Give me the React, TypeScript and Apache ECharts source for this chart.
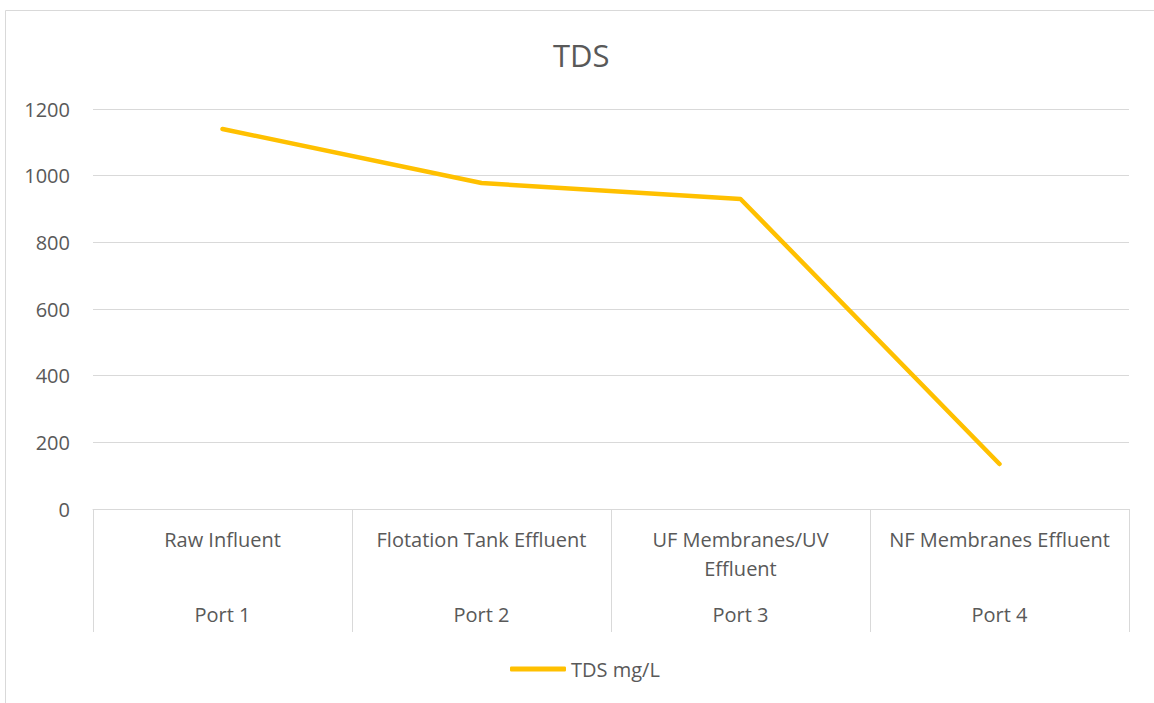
import React, { useEffect, useRef } from "react";
import * as echarts from "echarts";

const categories = ["Raw Influent", "Flotation Tank Effluent", "UF Membranes/UV\nEffluent", "NF Membranes Effluent"];
const ports = ["Port 1", "Port 2", "Port 3", "Port 4"];
const tdsValues = [1140, 978, 930, 135];
const seriesName = "TDS mg/L";
const titleText = "TDS";

const FONT = "'Open Sans', Lato, sans-serif";
const TEXT = "#595959";
const GRID = "#d9d9d9";

export default function App() {
  const ref = useRef<HTMLDivElement>(null);
  useEffect(() => {
    document.body.style.margin = "0";
    const chart = echarts.init(ref.current!, undefined, { renderer: "svg" });
    chart.setOption({
      animation: false,
      backgroundColor: "#fff",
      textStyle: { fontFamily: FONT },
      title: {
        text: titleText,
        left: 548,
        top: 34,
        textStyle: { fontFamily: FONT, fontSize: 31, fontWeight: "normal", color: TEXT },
      },
      graphic: [
        {
          type: "rect",
          shape: { x: 5.5, y: 10.5, width: 1200, height: 800 },
          style: { fill: "none", stroke: GRID, lineWidth: 1 },
          silent: true,
          z: -1,
        },
      ],
      legend: {
        top: 654,
        left: 505,
        icon: "roundRect",
        itemWidth: 56,
        itemHeight: 5,
        itemGap: 5,
        textStyle: { fontFamily: FONT, fontSize: 20, color: TEXT },
        data: [seriesName],
      },
      grid: { left: 93, right: 25, top: 109, bottom: 194, containLabel: false },
      xAxis: [
        {
          type: "category",
          data: categories,
          boundaryGap: true,
          axisLine: { show: true, lineStyle: { color: GRID, width: 1 } },
          axisTick: { show: true, interval: 0, length: 123, lineStyle: { color: GRID, width: 1 } },
          axisLabel: {
            interval: 0,
            margin: 16,
            fontFamily: FONT,
            fontSize: 20,
            color: TEXT,
            lineHeight: 29,
            verticalAlign: "top",
          },
        },
        {
          type: "category",
          data: ports,
          position: "bottom",
          boundaryGap: true,
          axisLine: { show: false },
          axisTick: { show: false },
          axisLabel: {
            interval: 0,
            margin: 91,
            fontFamily: FONT,
            fontSize: 20,
            color: TEXT,
            lineHeight: 29,
            verticalAlign: "top",
          },
        },
      ],
      yAxis: {
        type: "value",
        min: 0,
        max: 1200,
        interval: 200,
        axisLine: { show: false },
        axisTick: { show: false },
        splitLine: { lineStyle: { color: GRID, width: 1 } },
        axisLabel: {
          margin: 23,
          fontFamily: FONT,
          fontSize: 20,
          color: TEXT,
          formatter: (v: number) => String(v),
        },
      },
      series: [
        {
          name: seriesName,
          type: "line",
          data: tdsValues,
          symbol: "none",
          itemStyle: { color: "#FFC000" },
          lineStyle: { color: "#FFC000", width: 4.5, cap: "round", join: "round" },
        },
      ],
    });
    return () => chart.dispose();
  }, []);
  return <div ref={ref} style={{ width: 1154, height: 703, position: "absolute", left: 0, top: 0 }} />;
}
